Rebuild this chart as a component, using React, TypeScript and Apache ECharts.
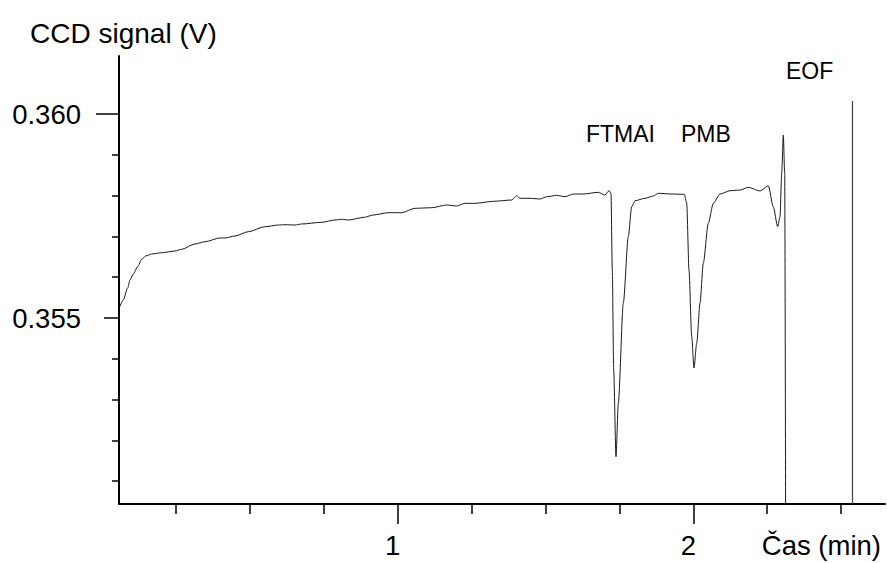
import React, { useEffect, useRef } from 'react';
import * as echarts from 'echarts';

// Time (min) and CCD signal (V)
const timeMin = [
  0.0589, 0.0717, 0.0866, 0.0944, 0.1055, 0.1204, 0.134, 0.1475, 0.1678, 0.2016,
  0.2466, 0.2693, 0.3143, 0.3481, 0.3988, 0.4158, 0.4496, 0.4946, 0.5511, 0.5961,
  0.6187, 0.6526, 0.6752, 0.7429, 0.7879, 0.8106, 0.8329, 0.887, 0.9175, 0.9682,
  1.0135, 1.0585, 1.115, 1.1658, 1.1996, 1.2277, 1.2615, 1.3234, 1.3857, 1.4026,
  1.4137, 1.4476, 1.4814, 1.5041, 1.5379, 1.566, 1.594, 1.6279, 1.6786, 1.7013,
  1.7148, 1.7216, 1.726, 1.7307, 1.7385, 1.7463, 1.7632, 1.7801, 1.7916, 1.8028,
  1.8366, 1.8647, 1.8816, 1.9269, 1.9696, 1.9777, 1.9855, 1.9946, 2.0024, 2.0115,
  2.0227, 2.0338, 2.0507, 2.0677, 2.0903, 2.1242, 2.158, 2.1861, 2.2256, 2.2537,
  2.2706, 2.2855, 2.2933, 2.2991, 2.3045, 2.3092, 2.3126,
];
const signalV = [
  0.355262, 0.355441, 0.355735, 0.355931, 0.356078, 0.356257, 0.356439, 0.35652, 0.356569, 0.3566,
  0.356642, 0.356684, 0.356814, 0.35687, 0.356961, 0.356961, 0.35701, 0.357115, 0.357238, 0.357279,
  0.357287, 0.357279, 0.357304, 0.357346, 0.357402, 0.357419, 0.357402, 0.357468, 0.357525, 0.357581,
  0.357581, 0.357689, 0.357703, 0.35777, 0.357745, 0.357811, 0.357811, 0.35786, 0.357892, 0.357998,
  0.357934, 0.357934, 0.357917, 0.357973, 0.358007, 0.357973, 0.358039, 0.358039, 0.358081, 0.358015,
  0.35812, 0.358056, 0.356176, 0.353725, 0.3516, 0.352909, 0.35536, 0.356993, 0.357728, 0.357875,
  0.357934, 0.35799, 0.358056, 0.358039, 0.358032, 0.357811, 0.356176, 0.354542, 0.353775, 0.35438,
  0.35536, 0.356341, 0.357321, 0.357811, 0.358039, 0.35812, 0.358137, 0.358203, 0.358113, 0.358243,
  0.357728, 0.357238, 0.357483, 0.358547, 0.359485, 0.358547, 0.349,
];

const xMinorTicks = [0.25, 0.5, 0.75, 1.25, 1.5, 1.75, 2.25, 2.5];
const xMajorTicks = [1, 2];
const yMinorTicks = [0.351, 0.352, 0.353, 0.354, 0.356, 0.357, 0.358, 0.359];
const yMidTick = [0.355];
const yTopTick = [0.36];
const yLabelValues = [0.355, 0.36];
const xRange = [0.0572, 2.6485];
const yRange = [0.350441, 0.361422];
const eofTime = 2.538;
const eofTop = 0.36032;
const peakNames = ['FTMAI', 'PMB', 'EOF'];

const FONT = '"Liberation Sans", Arial, sans-serif';

export default function App() {
  const ref = useRef<HTMLDivElement>(null);
  useEffect(() => {
    if (!ref.current) return;
    const chart = echarts.init(ref.current, null, { renderer: 'svg' });
    const data = timeMin.map((t, i) => [t, signalV[i]]);
    const axisColor = '#000';
    const baseX = {
      type: 'value',
      min: xRange[0],
      max: xRange[1],
      position: 'bottom',
      offset: 0,
      splitLine: { show: false },
    };
    const baseY = {
      type: 'value',
      min: yRange[0],
      max: yRange[1],
      position: 'left',
      offset: 0,
      splitLine: { show: false },
    };
    chart.setOption({
      animation: false,
      backgroundColor: '#fff',
      grid: { left: 119, right: 2, top: 56, bottom: 59, outerBoundsMode: 'none' },
      xAxis: [
        {
          ...baseX,
          axisLine: { show: true, lineStyle: { color: axisColor, width: 2 } },
          axisTick: { show: true, customValues: xMinorTicks, length: 10, lineStyle: { color: axisColor, width: 1.5 } },
          axisLabel: {
            show: true,
            customValues: xMajorTicks,
            formatter: (v: number) => String(v),
            color: '#000',
            fontSize: 27.5,
            fontFamily: FONT,
            margin: 27,
            padding: [0, 10, 0, 0],
          },
        },
        {
          ...baseX,
          axisLine: { show: false },
          axisTick: { show: true, customValues: xMajorTicks, length: 20, lineStyle: { color: axisColor, width: 1.5 } },
          axisLabel: { show: false },
        },
      ],
      yAxis: [
        {
          ...baseY,
          axisLine: { show: true, lineStyle: { color: axisColor, width: 2 } },
          axisTick: { show: true, customValues: yMinorTicks, length: 7, lineStyle: { color: axisColor, width: 1.5 } },
          axisLabel: {
            show: true,
            customValues: yLabelValues,
            formatter: (v: number) => v.toFixed(3),
            color: '#000',
            fontSize: 27.5,
            fontFamily: FONT,
            margin: 38,
            padding: [8, 0, 0, 0],
          },
        },
        {
          ...baseY,
          axisLine: { show: false },
          axisTick: { show: true, customValues: yMidTick, length: 15, lineStyle: { color: axisColor, width: 1.5 } },
          axisLabel: { show: false },
        },
        {
          ...baseY,
          axisLine: { show: false },
          axisTick: { show: true, customValues: yTopTick, length: 23, lineStyle: { color: axisColor, width: 1.5 } },
          axisLabel: { show: false },
        },
      ],
      series: [
        {
          type: 'line',
          data,
          xAxisIndex: 0,
          yAxisIndex: 0,
          showSymbol: false,
          symbol: 'none',
          clip: true,
          smooth: 0.25,
          smoothMonotone: 'x',
          lineStyle: { color: '#1a1a1a', width: 1 },
          markLine: {
            silent: true,
            symbol: 'none',
            label: { show: false },
            lineStyle: { color: '#444', width: 1.2, type: 'solid' },
            data: [[{ coord: [eofTime, eofTop] }, { coord: [eofTime, yRange[0]] }]],
          },
        },
      ],
      graphic: [
        {
          type: 'text',
          left: 30,
          top: 19,
          style: { text: 'CCD signal (V)', fontSize: 28, fontFamily: FONT, fill: '#000' },
        },
        {
          type: 'text',
          right: 6,
          top: 531,
          style: { text: 'Čas (min)', fontSize: 27.5, fontFamily: FONT, fill: '#000' },
        },
        {
          type: 'text',
          left: 586,
          top: 122,
          style: { text: peakNames[0], fontSize: 23, fontFamily: FONT, fill: '#000' },
        },
        {
          type: 'text',
          left: 681,
          top: 122,
          style: { text: peakNames[1], fontSize: 23, fontFamily: FONT, fill: '#000' },
        },
        {
          type: 'text',
          left: 786,
          top: 59,
          style: { text: peakNames[2], fontSize: 23, fontFamily: FONT, fill: '#000' },
        },
      ],
    });
    return () => chart.dispose();
  }, []);
  return <div ref={ref} style={{ position: 'fixed', left: 0, top: 0, width: 887, height: 563 }} />;
}
